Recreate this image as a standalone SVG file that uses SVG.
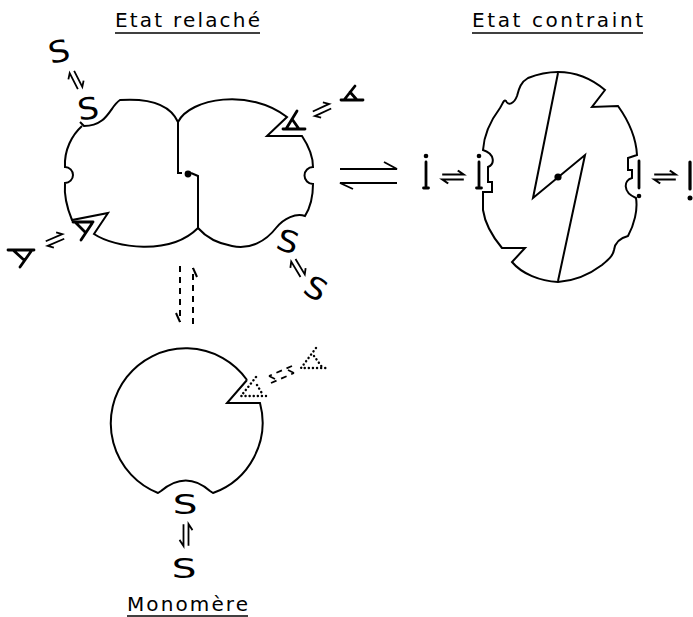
<svg xmlns="http://www.w3.org/2000/svg" width="693" height="617" viewBox="0 0 693 617">
<defs>
<style>
.o{fill:none;stroke:#000;stroke-width:2;stroke-linejoin:miter}
.l{fill:none;stroke:#000;stroke-width:2.8;stroke-linecap:round;stroke-linejoin:round}
.eq{fill:none;stroke:#000;stroke-width:1.8}
.dash{stroke-dasharray:6,5}
.dot{fill:none;stroke:#000;stroke-width:2.4;stroke-linecap:round;stroke-dasharray:0.1,4}
.t{font-family:"DejaVu Sans",sans-serif;font-size:20px;fill:#000}
.s{font-family:"DejaVu Sans",sans-serif;font-size:30px;fill:#000;text-anchor:middle}
.u{stroke:#000;stroke-width:1.6}
</style>
<g id="eq"><path d="M-9,-2.5H9L4,-6.5M9,2.5H-9L-4,6.5"/></g>
<g id="eqm"><path d="M-9,2.5H9L4,6.5M9,-2.5H-9L-4,-6.5"/></g>
</defs>
<rect width="693" height="617" fill="#fff"/>

<!-- headings -->
<g id="titles">
<text class="t" x="115" y="27" textLength="145" lengthAdjust="spacing">Etat relaché</text>
<line class="u" x1="115" y1="33" x2="260" y2="33"/>
<text class="t" x="472" y="27" textLength="171" lengthAdjust="spacing">Etat contraint</text>
<line class="u" x1="472" y1="33" x2="643" y2="33"/>
<text class="t" x="127" y="611" textLength="121" lengthAdjust="spacing">Monomère</text>
<line class="u" x1="127" y1="616" x2="248" y2="616"/>
</g>

<!-- relaxed dimer: left subunit -->
<g id="dimer-left">
<path class="o" d="M178,122 C170,104 150,98 120,100 C110,106 108,126 84,126 L80,122 M82,126 C72,135 64,150 65,167 A8,8 0 0 1 65,183 C64,195 67,208 72,220 L108,213 L94,234 C115,248 170,256 198,228"/>
<path class="o" d="M178,122 V173 H182"/>
<text class="s" transform="translate(88,108) rotate(-8) scale(1.12,1)" y="11">S</text>
<path class="l" d="M73,222 H93 M75,222 L85,232 M93,222 L81,240"/>
</g>

<!-- relaxed dimer: right subunit -->
<g id="dimer-right">
<path class="o" d="M178,122 C190,98 250,88 287,117 L267,136 L302,136 C308,145 313,156 313,167 A8.5,8.5 0 0 0 313,184 C313,196 310,208 305,216 C296,213 284,218 276,228 C266,241 250,250 232,246 C215,243 205,236 198,228"/>
<path class="o" d="M191,173 L198,176 V228"/>
<circle cx="188" cy="174" r="3.4" fill="#000"/>
<path class="l" d="M283,129 H305 M286,129 L297,111 M292,119 L299,129"/>
<text class="s" transform="translate(288,241) rotate(18) scale(1.12,1)" y="11">S</text>
</g>

<!-- free ligands around the relaxed dimer -->
<g id="ligands-relaxed">
<text class="s" transform="translate(59,51) rotate(-12) scale(1.12,1)" y="11">S</text>
<path class="l" d="M341,100 H363 M344,100 L355,86 M350,92 L357,100"/>
<path class="l" d="M8,250 H34 M13,250 L24,260 M32,250 L20,267"/>
<text class="s" transform="translate(316,288) rotate(30) scale(1.12,1)" y="11">S</text>
</g>

<!-- constrained state -->
<g id="constrained">
<path class="o" d="M558,72 C575,72 592,79 605,90 L592,107 L618,106 C628,120 636,137 637,155 L628,158 L628,170 L632,170 L632,178 C624,180 622,192 636,198 C638,210 634,225 628,236 C620,238 615,243 614,250 C613,256 608,260 602,265 C590,274 575,281 558,282 C540,281 522,274 512,262 L525,248 L502,248 C492,236 485,224 483,210 L483,192 L492,192 L492,182 L488,182 L488,167 C495,164 495,154 483,150 C484,135 491,120 500,108 C503,103 504,99 506,101 C508,106 514,104 517,96 C519,88 521,82 528,78 C538,74 548,72 558,72 Z"/>
<path class="o" d="M558,73 L533,198 L585,155 L558,281"/>
<circle cx="558" cy="177" r="3.6" fill="#000"/>
<path class="l" d="M479,162 V188 M476.5,188 H481.5"/>
<circle cx="479" cy="156" r="2.3" fill="#000"/>
<path class="l" d="M639,161 V188"/>
<circle cx="639" cy="196" r="2.3" fill="#000"/>
</g>

<!-- free ligands around the constrained state -->
<g id="ligands-constrained">
<path class="l" d="M426,162 V188 M423.5,188 H428.5"/>
<circle cx="426" cy="156" r="2.3" fill="#000"/>
<path class="l" d="M690,162 V189" style="stroke-width:3.2"/>
<circle cx="690" cy="198" r="2.5" fill="#000"/>
</g>

<!-- monomer -->
<g id="monomer">
<path class="o" d="M247,380 L227,403 L260,403 A75,75 0 0 1 213,493 L210,491 Q186,470 161,491 L158,493 A75,75 0 1 1 247,380"/>
<path class="dot" d="M256,377 L241,396 H266 M257,385 L263,395"/>
<text class="s" transform="translate(185,504) scale(1.3,0.88)" y="11">S</text>
<text class="s" transform="translate(184,568) scale(1.3,0.88)" y="11">S</text>
<path class="dot" d="M316,348 L301,368 H326 M314,356 L322,367"/>
</g>

<!-- equilibria -->
<g id="connectors" class="eq">
<path d="M340,169 H397 L384,162 M397,183 H340 L353,189" style="stroke-width:1.9"/>
<use href="#eq" transform="translate(76,80) rotate(63)"/>
<use href="#eq" transform="translate(322,110) rotate(-25)"/>
<use href="#eq" transform="translate(55,240) rotate(-23)"/>
<use href="#eq" transform="translate(298,268) rotate(59)"/>
<use href="#eq" transform="translate(453,177) scale(1.2,1)"/>
<use href="#eq" transform="translate(665,177) scale(1.2,1)"/>
<use href="#eqm" transform="translate(186,535) rotate(90) scale(1.2,1)"/>
<path class="dash" d="M180,266 V322" style="stroke-width:2"/>
<path d="M180,322 L176,313" style="stroke-width:2"/>
<path class="dash" d="M193,324 V268" style="stroke-width:2"/>
<path d="M193,268 L197,277" style="stroke-width:2"/>
<path class="dash" d="M271,383 L294,373 M292,366 L269,376" style="stroke-width:1.8"/>
<path d="M294,373 L288,370 M269,376 L275,379" style="stroke-width:1.8"/>
</g>
</svg>
